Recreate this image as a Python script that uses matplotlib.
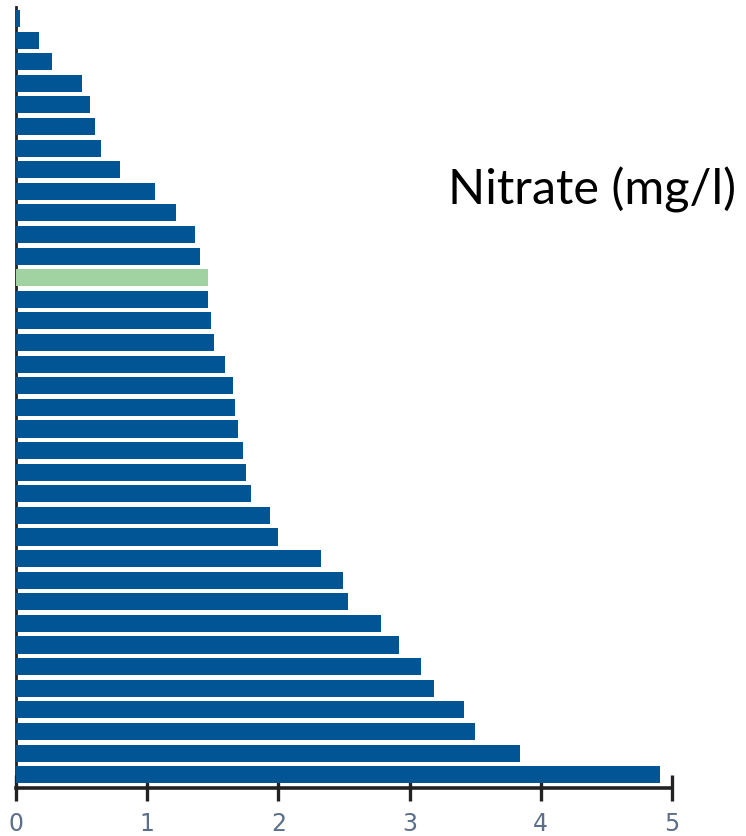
import matplotlib
matplotlib.use("Agg")
import matplotlib.pyplot as plt
import numpy as np

# Nitrate values, top bar first
nitrate = [0.03, 0.175, 0.275, 0.50, 0.565, 0.60, 0.65, 0.79, 1.06, 1.22,
           1.365, 1.40, 1.465, 1.465, 1.485, 1.51, 1.59, 1.655, 1.67, 1.69,
           1.73, 1.755, 1.79, 1.935, 2.00, 2.325, 2.49, 2.53, 2.78, 2.92,
           3.085, 3.185, 3.415, 3.50, 3.84, 4.91]
highlight = 12  # the green bar
xticks = [0, 1, 2, 3, 4, 5]

blue = "#025594"
green = "#A1D2A1"

fig = plt.figure(figsize=(7.46, 8.37), dpi=100)
ax = fig.add_axes([0.0214, 0.0573, 0.8794, 0.9331])

n = len(nitrate)
colors = [green if i == highlight else blue for i in range(n)]
ax.barh(np.arange(n), nitrate, height=0.79, color=colors, zorder=3)

ax.set_xlim(0, 5)
ax.set_ylim(n - 1 + 0.62, -0.53)

for s in ["top", "right"]:
    ax.spines[s].set_visible(False)
ax.spines["left"].set_color("#222222")
ax.spines["left"].set_linewidth(2.0)
ax.spines["bottom"].set_color("#222222")
ax.spines["bottom"].set_linewidth(2.6)

ax.set_yticks([])
ax.set_xticks(xticks)
ax.set_xticklabels([str(t) for t in xticks], family="Liberation Sans Narrow")
ax.tick_params(axis="x", direction="inout", length=19, width=2.4,
               color="#222222", labelsize=17, labelcolor="#5b6f8c", pad=7)

fig.text(0.600, 0.7735, "Nitrate (mg/l)", fontsize=35, family="Lato",
         color="black", va="center", ha="left")

fig.savefig("out.png", dpi=100)
